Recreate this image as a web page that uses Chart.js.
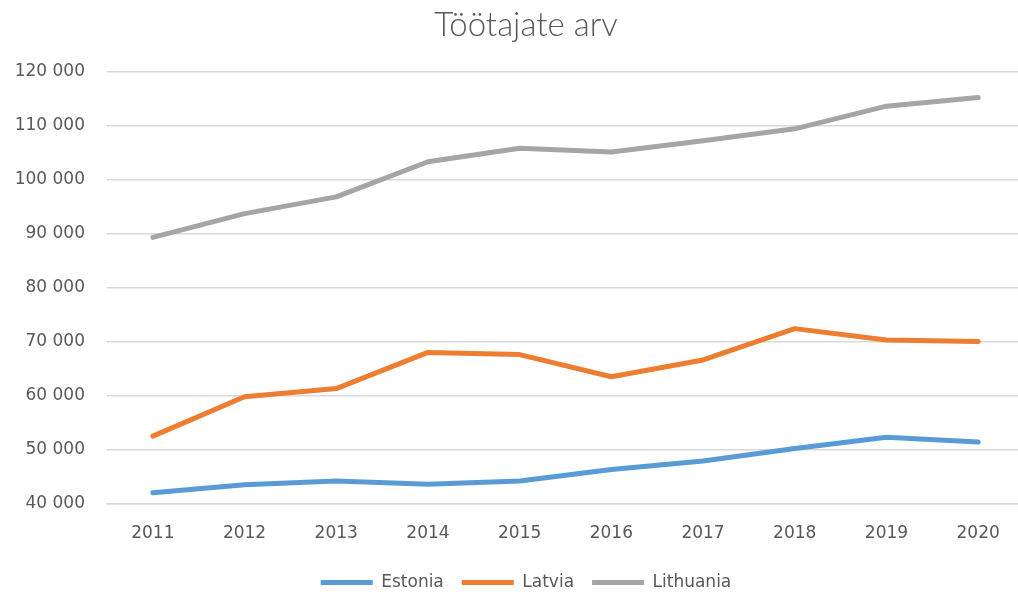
<!DOCTYPE html>
<html lang="et">
<head>
<meta charset="UTF-8">
<title>Töötajate arv</title>
<script src="https://cdn.jsdelivr.net/npm/chart.js"></script>
<style>
  html, body { margin: 0; padding: 0; background: #fff; overflow: hidden; }
  #wrap { width: 1024px; height: 594px; }
</style>
</head>
<body>
<div id="wrap"><canvas id="chart"></canvas></div>
<script>
const years = ['2011', '2012', '2013', '2014', '2015', '2016', '2017', '2018', '2019', '2020'];
const estonia = [42000, 43500, 44200, 43600, 44200, 46300, 47900, 50200, 52300, 51400];
const latvia = [52500, 59800, 61300, 68000, 67600, 63500, 66600, 72400, 70300, 70000];
const lithuania = [89300, 93700, 96800, 103300, 105800, 105100, 107200, 109400, 113600, 115200];

const font = "'DejaVu Sans', sans-serif";
const grey = '#595959';

function line(label, data, color) {
  return {
    label: label,
    data: data,
    borderColor: color,
    backgroundColor: color,
    borderWidth: 5,
    borderCapStyle: 'round',
    borderJoinStyle: 'round',
    pointRadius: 0,
    tension: 0,
    fill: false
  };
}

// title and legend sit a bit right of the canvas centre in the original
const nudgeCentre = {
  id: 'nudgeCentre',
  afterLayout(chart) {
    if (chart.titleBlock) chart.titleBlock.left += 28;
    if (chart.legend) chart.legend.left += 28;
  }
};

new Chart(document.getElementById('chart'), {
  type: 'line',
  data: {
    labels: years,
    datasets: [
      line('Estonia', estonia, '#5B9BD5'),
      line('Latvia', latvia, '#ED7D31'),
      line('Lithuania', lithuania, '#A5A5A5')
    ]
  },
  plugins: [nudgeCentre],
  options: {
    responsive: true,
    maintainAspectRatio: false,
    animation: false,
    layout: { padding: { left: 0, right: 0, top: 6, bottom: -7 } },
    plugins: {
      title: {
        display: true,
        text: 'Töötajate arv',
        color: grey,
        font: { family: "Lato, sans-serif", size: 33, weight: '300' },
        padding: { top: 0, bottom: 26 }
      },
      legend: {
        position: 'bottom',
        labels: {
          color: grey,
          font: { family: font, size: 17 },
          usePointStyle: true,
          pointStyle: 'line',
          pointStyleWidth: 52,
          padding: 18
        }
      },
      tooltip: { enabled: false }
    },
    scales: {
      x: {
        offset: true,
        grid: { display: false },
        border: { color: '#D9D9D9', width: 1.5 },
        ticks: { color: grey, font: { family: font, size: 17 }, padding: 12 }
      },
      y: {
        min: 40000,
        max: 120000,
        afterFit: function (scale) { scale.width = 107; },
        grid: { color: '#D9D9D9', lineWidth: 1.5, drawTicks: false },
        border: { display: false },
        ticks: {
          stepSize: 10000,
          color: grey,
          font: { family: font, size: 17 },
          padding: 22,
          callback: function (v) { return String(v).replace(/\B(?=(\d{3})+(?!\d))/g, ' '); }
        }
      }
    }
  }
});
</script>
</body>
</html>
